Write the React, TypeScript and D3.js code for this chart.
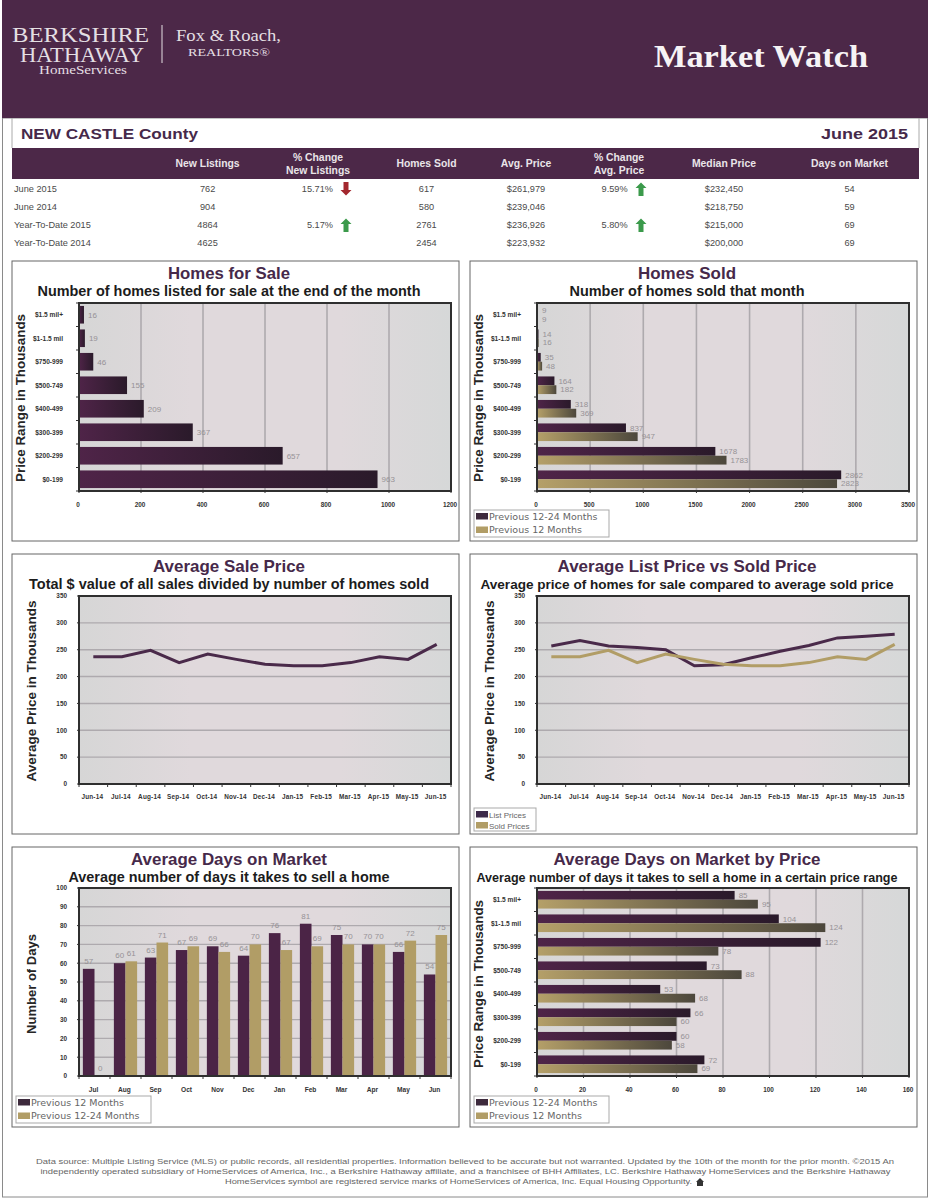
import React from "react";
import * as d3 from "d3";

const priceRanges = ["$1.5 mil+", "$1-1.5 mil", "$750-999", "$500-749", "$400-499", "$300-399", "$200-299", "$0-199"];
const forSale = [16, 19, 46, 155, 209, 367, 657, 963];
const soldPrev24 = [9, 14, 35, 164, 318, 837, 1678, 2862];
const soldPrev12 = [9, 16, 48, 182, 369, 947, 1783, 2823];
const months13 = ["Jun-14", "Jul-14", "Aug-14", "Sep-14", "Oct-14", "Nov-14", "Dec-14", "Jan-15", "Feb-15", "Mar-15", "Apr-15", "May-15", "Jun-15"];
const salePrice = [237, 237, 249, 226, 242, 232, 223, 220, 220, 226, 237, 232, 260];
const listPrice = [257, 267, 257, 254, 250, 220, 222, 235, 247, 258, 272, 275, 279];
const months12 = ["Jul", "Aug", "Sep", "Oct", "Nov", "Dec", "Jan", "Feb", "Mar", "Apr", "May", "Jun"];
const domPrev12 = [57, 60, 63, 67, 69, 64, 76, 81, 75, 70, 66, 54];
const domPrev24 = [0, 61, 71, 69, 66, 70, 67, 69, 70, 70, 72, 75];
const domPricePrev24 = [85, 104, 122, 73, 53, 66, 60, 72];
const domPricePrev12 = [95, 124, 78, 88, 68, 60, 58, 69];
const tableHeaders = [["New Listings"], ["% Change", "New Listings"], ["Homes Sold"], ["Avg. Price"], ["% Change", "Avg. Price"], ["Median Price"], ["Days on Market"]];
const rowNames = ["June 2015", "June 2014", "Year-To-Date 2015", "Year-To-Date 2014"];
const newListings = ["762", "904", "4864", "4625"];
const changeListings = ["15.71%", "", "5.17%", ""];
const changeListingsDir = ["down", "", "up", ""];
const homesSold = ["617", "580", "2761", "2454"];
const avgPrice = ["$261,979", "$239,046", "$236,926", "$223,932"];
const changePrice = ["9.59%", "", "5.80%", ""];
const changePriceDir = ["up", "", "up", ""];
const medianPrice = ["$232,450", "$218,750", "$215,000", "$200,000"];
const daysOnMarket = ["54", "59", "69", "69"];
const footerLines = [
  "Data source: Multiple Listing Service (MLS) or public records, all residential properties. Information believed to be accurate but not warranted. Updated by the 10th of the month for the prior month. \u00a92015 An",
  "independently operated subsidiary of HomeServices of America, Inc., a Berkshire Hathaway affiliate, and a franchisee of BHH Affiliates, LC. Berkshire Hathaway HomeServices and the Berkshire Hathaway",
  "HomeServices symbol are registered service marks of HomeServices of America, Inc. Equal Housing Opportunity.",
];

const SANS = "'Liberation Sans', Arial, sans-serif";
const SERIF = "'Liberation Serif', serif";
const PURPLE = "#4c2848";
const GOLD = "#b19d66";
const PLOT_W = 372;
const PLOT_H = 188;

function Frame({ x, y, title, titleW, sub, subW, subSize = 14, axis, axisX, axisLen, children }: any) {
  const cx = x + 217;
  return (
    <g>
      <rect x={x} y={y} width={447} height={280} fill="#fff" stroke="#666" strokeWidth={1} />
      <text x={cx} y={y + 18} textAnchor="middle" fontFamily={SANS} fontWeight={700} fontSize={16.5} fill="#46294a" textLength={titleW} lengthAdjust="spacingAndGlyphs">{title}</text>
      <text x={cx} y={y + 35} textAnchor="middle" fontFamily={SANS} fontWeight={700} fontSize={subSize} fill="#1c1c1c" textLength={subW} lengthAdjust="spacingAndGlyphs">{sub}</text>
      <text transform={`translate(${axisX},${y + 137}) rotate(-90)`} textAnchor="middle" fontFamily={SANS} fontWeight={700} fontSize={13} fill="#262626" textLength={axisLen} lengthAdjust="spacingAndGlyphs">{axis}</text>
      {children}
    </g>
  );
}

function PlotBg({ x, y }: any) {
  return <rect x={x} y={y} width={PLOT_W} height={PLOT_H} fill="url(#plotBg)" />;
}
function PlotBorder({ x, y }: any) {
  return <rect x={x} y={y} width={PLOT_W} height={PLOT_H} fill="none" stroke="#2f2f2f" strokeWidth={2} />;
}

function Legend({ x, y, w, h, items, size, family, rowH }: any) {
  return (
    <g>
      <rect x={x} y={y} width={w} height={h} fill="#fff" stroke="#a9a9a9" strokeWidth={1} />
      {items.map((it: any, i: number) => (
        <g key={i}>
          <rect x={x + 2} y={y + 3 + i * rowH} width={12} height={6.5} fill={it.color} />
          <text x={x + 15} y={y + 9.5 + i * rowH} fontFamily={family} fontSize={size} fill="#666">{it.label}</text>
        </g>
      ))}
    </g>
  );
}

function HBars({ x, y, domainMax, ticks, series }: any) {
  const xs = d3.scaleLinear().domain([0, domainMax]).range([x, x + PLOT_W]);
  const ys = d3.scaleBand<string>().domain(priceRanges).range([y, y + PLOT_H]).paddingInner(0.25).paddingOuter(0.125);
  const step = ys.step();
  const bh = ys.bandwidth() / series.length;
  return (
    <g>
      <PlotBg x={x} y={y} />
      {ticks.slice(1, -1).map((t: number) => (
        <line key={t} x1={xs(t)} x2={xs(t)} y1={y} y2={y + PLOT_H} stroke="#aeaaae" strokeWidth={1.6} />
      ))}
      {priceRanges.map((c, i) => (
        <g key={c}>
          {series.map((s: any, k: number) => (
            <g key={k}>
              <rect x={x} y={ys(c)! + k * bh} width={xs(s.values[i]) - x} height={bh} fill={`url(#${s.grad})`} />
              <text x={xs(s.values[i]) + 4} y={ys(c)! + k * bh + bh / 2 + 2.8} fontFamily={SANS} fontSize={8} fill="#969296">{s.values[i]}</text>
            </g>
          ))}
          <text x={x - 16} y={ys(c)! + ys.bandwidth() / 2 + 2.4} textAnchor="end" fontFamily={SANS} fontWeight={700} fontSize={6.6} fill="#333">{c}</text>
        </g>
      ))}
      {d3.range(priceRanges.length + 1).map((i) => (
        <line key={i} x1={x - 3} x2={x} y1={y + i * step} y2={y + i * step} stroke="#333" strokeWidth={1} />
      ))}
      <PlotBorder x={x} y={y} />
      {ticks.map((t: number) => (
        <g key={t}>
          <line x1={xs(t)} x2={xs(t)} y1={y + PLOT_H} y2={y + PLOT_H + 2} stroke="#333" strokeWidth={1} />
          <text x={xs(t) - 1} y={y + PLOT_H + 16} textAnchor="middle" fontFamily={SANS} fontWeight={700} fontSize={6.4} fill="#333">{t}</text>
        </g>
      ))}
    </g>
  );
}

function LineChart({ x, y, series }: any) {
  const xs = d3.scaleBand<string>().domain(months13).range([x, x + PLOT_W]);
  const ys = d3.scaleLinear().domain([0, 350]).range([y + PLOT_H, y]);
  const ticks = d3.range(0, 351, 50);
  const line = d3.line<number>().x((_, i) => xs(months13[i])! + xs.bandwidth() / 2).y((d) => ys(d));
  return (
    <g>
      <PlotBg x={x} y={y} />
      {ticks.slice(1, -1).map((t) => (
        <line key={t} x1={x} x2={x + PLOT_W} y1={ys(t)} y2={ys(t)} stroke="#aeaaae" strokeWidth={1.4} />
      ))}
      {series.map((s: any, k: number) => (
        <path key={k} d={line(s.values)!} fill="none" stroke={s.color} strokeWidth={3} strokeLinejoin="miter" />
      ))}
      <PlotBorder x={x} y={y} />
      {ticks.map((t) => (
        <g key={t}>
          <line x1={x - 2} x2={x} y1={ys(t)} y2={ys(t)} stroke="#333" strokeWidth={1} />
          <text x={x - 12} y={ys(t) + 2.3} textAnchor="end" fontFamily={SANS} fontWeight={700} fontSize={6.4} fill="#333">{t}</text>
        </g>
      ))}
      {months13.map((m, i) => (
        <g key={m}>
          <line x1={x + i * xs.step()} x2={x + i * xs.step()} y1={y + PLOT_H} y2={y + PLOT_H + 3} stroke="#333" strokeWidth={1} />
          <text x={xs(m)! + xs.bandwidth() / 2 - 1} y={y + PLOT_H + 15} textAnchor="middle" fontFamily={SANS} fontWeight={700} fontSize={6.4} letterSpacing={0.2} fill="#333">{m}</text>
        </g>
      ))}
      <line x1={x + PLOT_W} x2={x + PLOT_W} y1={y + PLOT_H} y2={y + PLOT_H + 3} stroke="#333" strokeWidth={1} />
    </g>
  );
}

function ColumnChart({ x, y }: any) {
  const xs = d3.scaleBand<string>().domain(months12).range([x, x + PLOT_W]).paddingInner(0.25).paddingOuter(0.125);
  const ys = d3.scaleLinear().domain([0, 100]).range([y + PLOT_H, y]);
  const ticks = d3.range(0, 101, 10);
  const bw = xs.bandwidth() / 2;
  const series = [
    { values: domPrev12, color: "#4b2446" },
    { values: domPrev24, color: GOLD },
  ];
  return (
    <g>
      <PlotBg x={x} y={y} />
      {ticks.slice(1, -1).map((t) => (
        <line key={t} x1={x} x2={x + PLOT_W} y1={ys(t)} y2={ys(t)} stroke="#aeaaae" strokeWidth={1.4} />
      ))}
      {months12.map((m, i) => (
        <g key={m}>
          {series.map((s, k) => (
            <g key={k}>
              <rect x={xs(m)! + k * bw} y={ys(s.values[i])} width={bw} height={y + PLOT_H - ys(s.values[i])} fill={s.color} />
              <text x={xs(m)! + k * bw + bw / 2} y={ys(s.values[i]) - 5} textAnchor="middle" fontFamily={SANS} fontSize={8} fill="#969296">{s.values[i]}</text>
            </g>
          ))}
          <line x1={x + i * xs.step()} x2={x + i * xs.step()} y1={y + PLOT_H} y2={y + PLOT_H + 3} stroke="#333" strokeWidth={1} />
          <text x={xs(m)! + xs.bandwidth() / 2 - 1} y={y + PLOT_H + 16} textAnchor="middle" fontFamily={SANS} fontWeight={700} fontSize={6.6} fill="#333">{m}</text>
        </g>
      ))}
      <line x1={x + PLOT_W} x2={x + PLOT_W} y1={y + PLOT_H} y2={y + PLOT_H + 3} stroke="#333" strokeWidth={1} />
      <PlotBorder x={x} y={y} />
      {ticks.map((t) => (
        <g key={t}>
          <line x1={x - 2} x2={x} y1={ys(t)} y2={ys(t)} stroke="#333" strokeWidth={1} />
          <text x={x - 12} y={ys(t) + 2.3} textAnchor="end" fontFamily={SANS} fontWeight={700} fontSize={6.4} fill="#333">{t}</text>
        </g>
      ))}
    </g>
  );
}

function Arrow({ x, y, dir }: any) {
  const pts = d3.line()([[-2.5, 7], [-2.5, -1], [-5.5, -1], [0, -6.5], [5.5, -1], [2.5, -1], [2.5, 7]])!;
  return (
    <path d={pts + "Z"} transform={`translate(${x},${y}) ${dir === "down" ? "scale(1,-1)" : ""}`} fill={dir === "down" ? "#a3282e" : "#3b9a4b"} />
  );
}

function Table() {
  const colX = [207.6, 318, 426.5, 526, 619, 724, 849.5];
  const rowY = d3.range(4).map((i) => 192 + i * 18);
  const cell = (v: string, x: number, y: number, anchor: string) => (
    <text x={x} y={y} textAnchor={anchor as any} fontFamily={SANS} fontSize={9.2} fill="#4a4a4a">{v}</text>
  );
  return (
    <g>
      <rect x={12} y={148} width={907} height={31} fill={PURPLE} />
      {tableHeaders.map((h, i) => h.map((t, j) => (
        <text key={t + i} x={colX[i]} y={h.length === 1 ? 167 : 161 + j * 12.5} textAnchor="middle" fontFamily={SANS} fontWeight={700} fontSize={10.4} fill="#e9e4e8">{t}</text>
      )))}
      {rowNames.map((r, i) => (
        <g key={r}>
          {cell(r, 14, rowY[i], "start")}
          {cell(newListings[i], colX[0], rowY[i], "middle")}
          {cell(changeListings[i], 333, rowY[i], "end")}
          {changeListingsDir[i] && <Arrow x={346} y={rowY[i] - 3} dir={changeListingsDir[i]} />}
          {cell(homesSold[i], colX[2], rowY[i], "middle")}
          {cell(avgPrice[i], colX[3], rowY[i], "middle")}
          {cell(changePrice[i], 627.6, rowY[i], "end")}
          {changePriceDir[i] && <Arrow x={641} y={rowY[i] - 3} dir={changePriceDir[i]} />}
          {cell(medianPrice[i], colX[5], rowY[i], "middle")}
          {cell(daysOnMarket[i], colX[6], rowY[i], "middle")}
        </g>
      ))}
    </g>
  );
}

export default function App() {
  const goldLegend = [{ color: "#3d2a3c", label: "Previous 12-24 Months" }, { color: GOLD, label: "Previous 12 Months" }];
  return (
    <svg width={933} height={1200} viewBox="0 0 933 1200" style={{ position: "absolute", left: 0, top: 0, background: "#fff" }}>
      <defs>
        <linearGradient id="plotBg" x1="0" x2="1" y1="0" y2="0">
          <stop offset="0" stopColor="#d6d6d6" />
          <stop offset="0.3" stopColor="#e0d9dc" />
          <stop offset="0.7" stopColor="#e0d9dc" />
          <stop offset="1" stopColor="#d6d8d8" />
        </linearGradient>
        <linearGradient id="purpleBar" x1="0" x2="1" y1="0" y2="0">
          <stop offset="0" stopColor="#4f2448" />
          <stop offset="1" stopColor="#2a1a2a" />
        </linearGradient>
        <linearGradient id="goldBar" x1="0" x2="1" y1="0" y2="0">
          <stop offset="0" stopColor="#b5a069" />
          <stop offset="1" stopColor="#4c473c" />
        </linearGradient>
      </defs>

      <rect x={2.5} y={118} width={925} height={1079} fill="#fff" stroke="#8a8a8a" strokeWidth={1} />
      <rect x={2} y={0} width={926} height={118} fill={PURPLE} />
      <line x1={12} x2={12} y1={118} y2={148} stroke="#aaa" />
      <line x1={919} x2={919} y1={118} y2={148} stroke="#aaa" />

      <g fontFamily={SERIF} fill="#e4dfe3">
        <text x={12} y={42} fontSize={21} textLength={137} lengthAdjust="spacingAndGlyphs">BERKSHIRE</text>
        <text x={20} y={62} fontSize={21} textLength={124} lengthAdjust="spacingAndGlyphs">HATHAWAY</text>
        <text x={39} y={74} fontSize={12} textLength={88} lengthAdjust="spacingAndGlyphs">HomeServices</text>
        <text x={176} y={41} fontSize={16} textLength={105} lengthAdjust="spacingAndGlyphs">Fox &amp; Roach,</text>
        <text x={188} y={56} fontSize={11} textLength={82} lengthAdjust="spacingAndGlyphs">REALTORS®</text>
      </g>
      <line x1={162} x2={162} y1={25} y2={63} stroke="#e4dfe3" strokeWidth={1} />
      <text x={654} y={67} fontFamily={SERIF} fontWeight={700} fontSize={32} fill="#f6f3f5" textLength={214} lengthAdjust="spacingAndGlyphs">Market Watch</text>

      <text x={21} y={139} fontFamily={SANS} fontWeight={700} fontSize={15} fill="#46294a" textLength={177} lengthAdjust="spacingAndGlyphs">NEW CASTLE County</text>
      <text x={821} y={139} fontFamily={SANS} fontWeight={700} fontSize={15} fill="#46294a" textLength={87} lengthAdjust="spacingAndGlyphs">June 2015</text>

      <Table />

      <Frame x={12} y={261} title="Homes for Sale" titleW={122} sub="Number of homes listed for sale at the end of the month" subW={383} axis="Price Range in Thousands" axisX={25} axisLen={168}>
        <HBars x={79} y={303} domainMax={1200} ticks={d3.range(0, 1201, 200)} series={[{ values: forSale, grad: "purpleBar" }]} />
      </Frame>
      <Frame x={470} y={261} title="Homes Sold" titleW={98} sub="Number of homes sold that month" subW={235} axis="Price Range in Thousands" axisX={483} axisLen={168}>
        <HBars x={537} y={303} domainMax={3500} ticks={d3.range(0, 3501, 500)} series={[{ values: soldPrev24, grad: "purpleBar" }, { values: soldPrev12, grad: "goldBar" }]} />
        <Legend x={474} y={510} w={135} h={27} items={goldLegend} size={9.5} family="'DejaVu Sans', sans-serif" rowH={13.5} />
      </Frame>
      <Frame x={12} y={554} title="Average Sale Price" titleW={152} sub="Total $ value of all sales divided by number of homes sold" subW={400} axis="Average Price in Thousands" axisX={36} axisLen={181}>
        <LineChart x={79} y={596} series={[{ values: salePrice, color: "#4a2a4a" }]} />
      </Frame>
      <Frame x={470} y={554} title="Average List Price vs Sold Price" titleW={259} sub="Average price of homes for sale compared to average sold price" subW={413} subSize={13.5} axis="Average Price in Thousands" axisX={494} axisLen={181}>
        <LineChart x={537} y={596} series={[{ values: listPrice, color: "#4a2a4a" }, { values: salePrice, color: GOLD }]} />
        <Legend x={474} y={808} w={62} h={23} items={[{ color: "#3d2a4a", label: "List Prices" }, { color: GOLD, label: "Sold Prices" }]} size={8} family={SANS} rowH={11} />
      </Frame>
      <Frame x={12} y={847} title="Average Days on Market" titleW={196} sub="Average number of days it takes to sell a home" subW={321} axis="Number of Days" axisX={36} axisLen={100}>
        <ColumnChart x={79} y={888} />
        <Legend x={16} y={1096} w={135} h={27} items={[{ color: "#3d2a3c", label: "Previous 12 Months" }, { color: GOLD, label: "Previous 12-24 Months" }]} size={9.5} family="'DejaVu Sans', sans-serif" rowH={13.5} />
      </Frame>
      <Frame x={470} y={847} title="Average Days on Market by Price" titleW={267} sub="Average number of days it takes to sell a home in a certain price range" subW={421} subSize={12} axis="Price Range in Thousands" axisX={483} axisLen={168}>
        <HBars x={537} y={888} domainMax={160} ticks={d3.range(0, 161, 20)} series={[{ values: domPricePrev24, grad: "purpleBar" }, { values: domPricePrev12, grad: "goldBar" }]} />
        <Legend x={474} y={1096} w={135} h={27} items={goldLegend} size={9.5} family="'DejaVu Sans', sans-serif" rowH={13.5} />
      </Frame>

      {footerLines.map((l, i) => (
        <text key={i} x={[465, 465.5, 458.5][i]} y={1164 + i * 10} textAnchor="middle" fontFamily={SANS} fontSize={7.5} fill="#666" textLength={[858, 850, 467][i]} lengthAdjust="spacingAndGlyphs">{l}</text>
      ))}
      <path d={d3.line()([[696, 1182], [700, 1178], [704, 1182], [703, 1182], [703, 1186], [697, 1186], [697, 1182]])! + "Z"} fill="#333" />
    </svg>
  );
}
